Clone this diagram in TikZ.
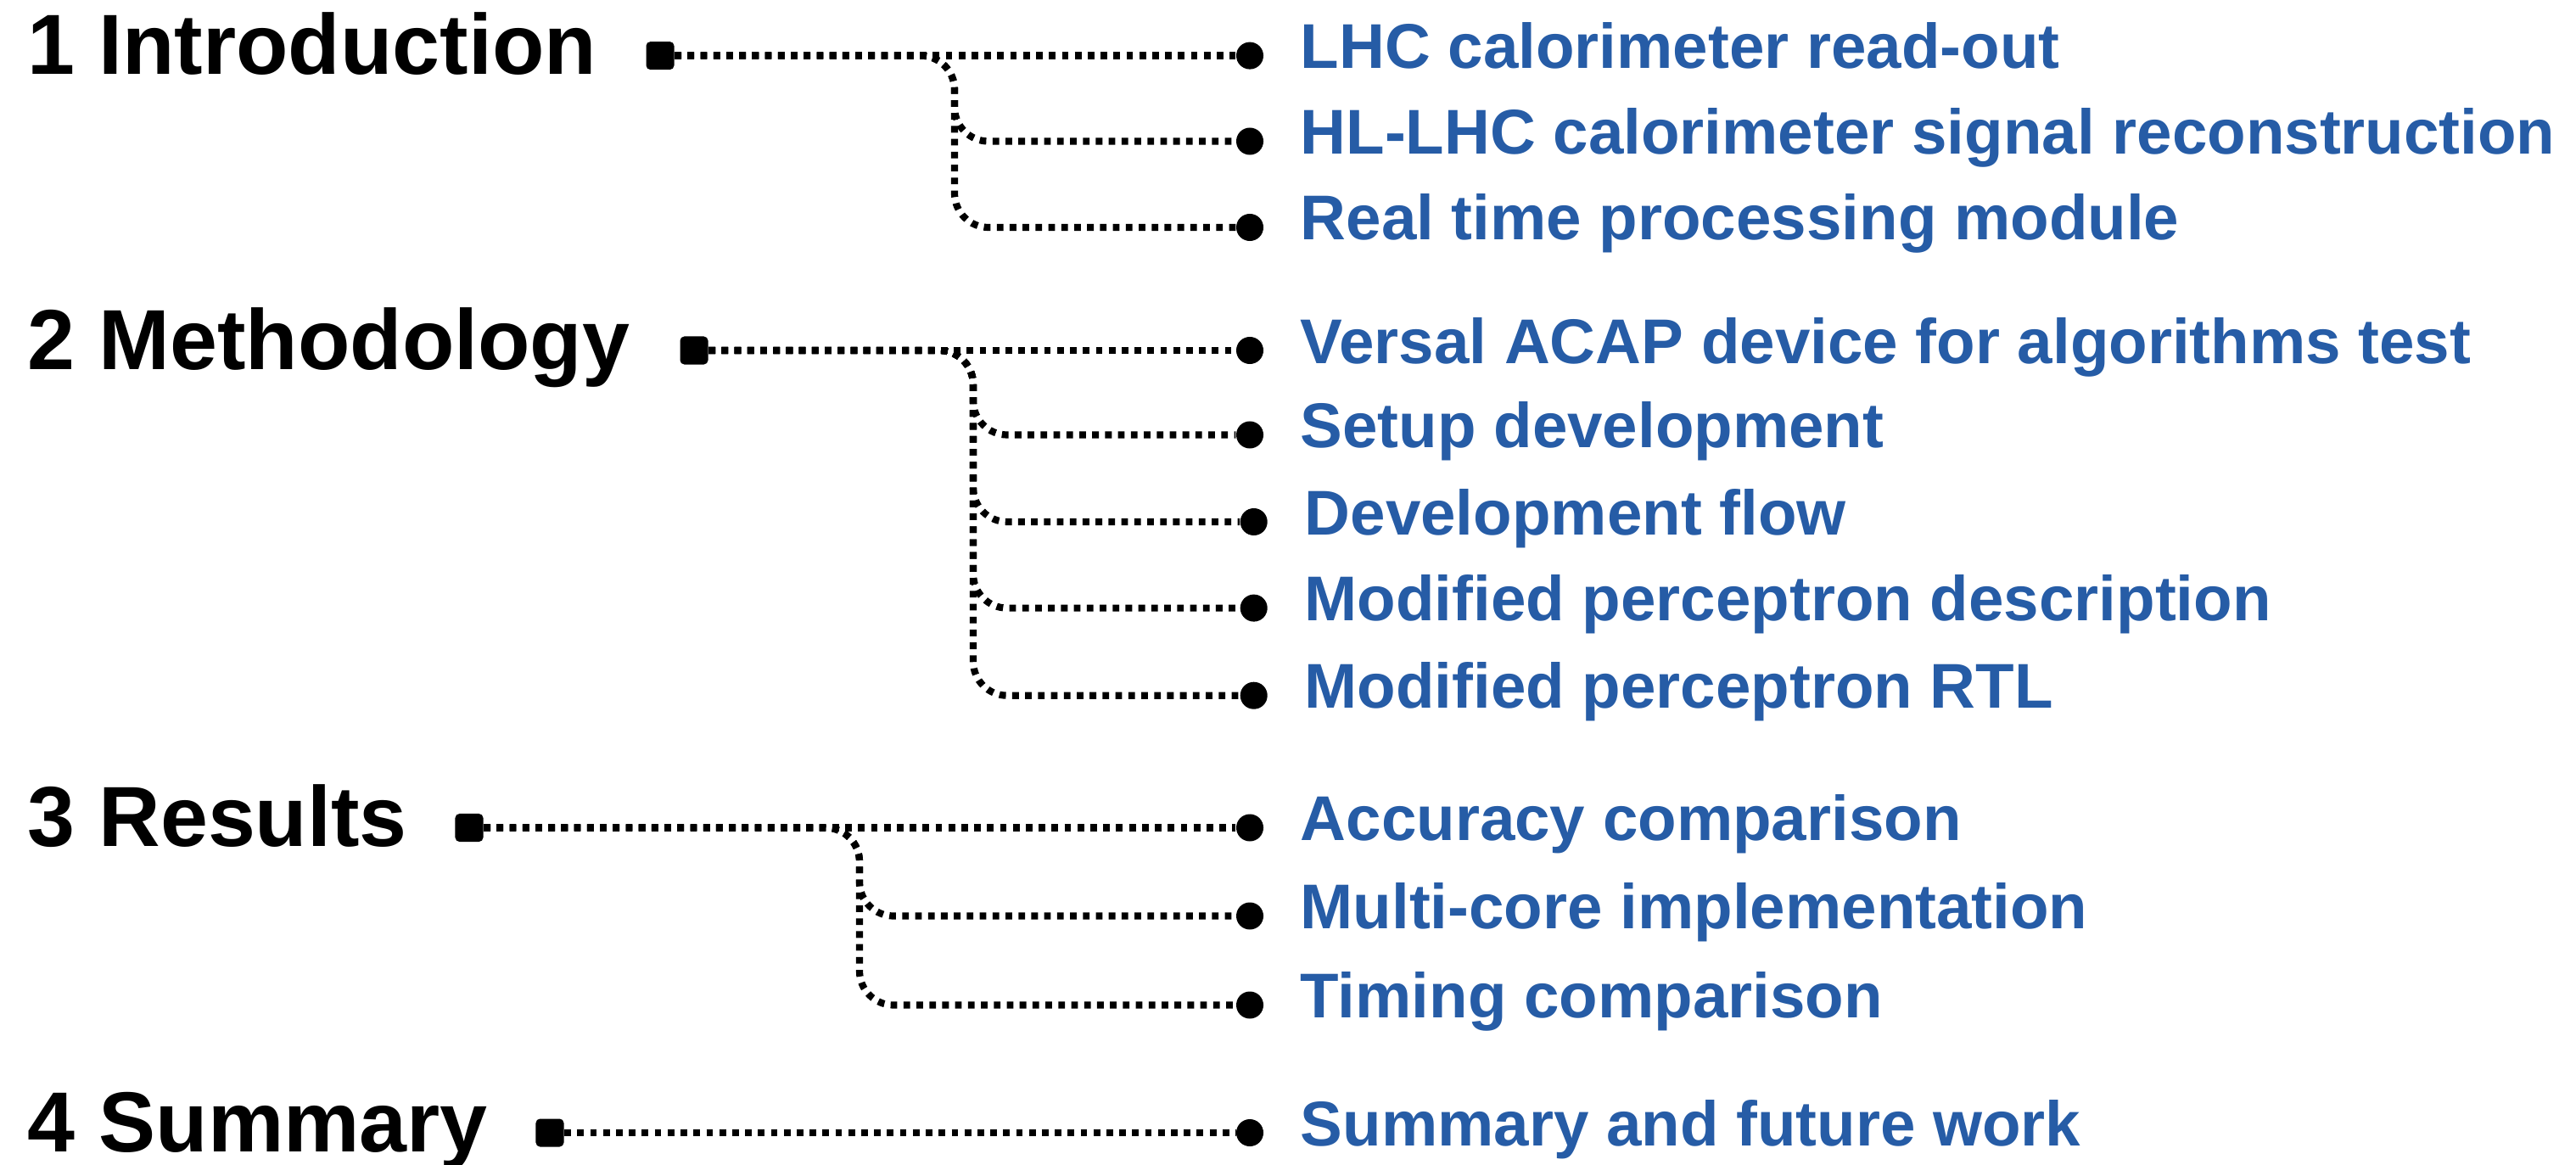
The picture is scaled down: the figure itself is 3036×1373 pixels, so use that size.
\documentclass[tikz,border=0pt]{standalone}
\usepackage{fontspec}
\setmainfont{Liberation Sans}
\definecolor{itemblue}{RGB}{38,92,166}
\begin{document}
\begin{tikzpicture}[x=0.01cm,y=0.01cm,
  head/.style={anchor=base west,inner sep=0pt,font=\bfseries\fontsize{28.6}{34}\selectfont,text=black},
  itemtext/.style={anchor=base west,inner sep=0pt,font=\bfseries\fontsize{21.2}{25}\selectfont,text=itemblue},
  sqm/.style={rectangle,fill=black,rounded corners=0.05cm,minimum size=0.33cm,inner sep=0pt},
  dotm/.style={circle,fill=black,minimum size=0.32cm,inner sep=0pt},
  conn/.style={line width=0.082cm,dash pattern=on 0.078cm off 0.074cm,rounded corners=0.4cm}]
\useasboundingbox (0,0) rectangle (3036,-1373);
% ---------- 1 Introduction
\node[head] (hI) at (32,-87.6) {1 Introduction};
\node[sqm] (sqI) at (778,-65.6) {};
\coordinate (bI) at (1125,0);
\node[dotm] (cI1) at (1473,-65.6) {};
\node[dotm] (cI2) at (1473,-166.5) {};
\node[dotm] (cI3) at (1473,-268) {};
\node[itemtext] (tI1) at (1532,-80.6) {LHC calorimeter read-out};
\node[itemtext] (tI2) at (1532,-181.5) {HL-LHC calorimeter signal reconstruction};
\node[itemtext] (tI3) at (1532,-283) {Real time processing module};
\draw[conn] (sqI.east) -- (cI1);
\draw[conn] (sqI.east) -| (bI |- cI2) -- (cI2);
\draw[conn] (sqI.east) -| (bI |- cI3) -- (cI3);
% ---------- 2 Methodology
\node[head] (hM) at (32,-435) {2 Methodology};
\node[sqm] (sqM) at (818,-413) {};
\coordinate (bM) at (1147,0);
\node[dotm] (cM1) at (1473,-413) {};
\node[dotm] (cM2) at (1473,-512.5) {};
\node[dotm] (cM3) at (1477.7,-615) {};
\node[dotm] (cM4) at (1477.7,-716.6) {};
\node[dotm] (cM5) at (1477.7,-819.7) {};
\node[itemtext] (tM1) at (1532,-428) {Versal ACAP device for algorithms test};
\node[itemtext] (tM2) at (1532,-527.5) {Setup development};
\node[itemtext] (tM3) at (1537,-630) {Development flow};
\node[itemtext] (tM4) at (1537,-731.6) {Modified perceptron description};
\node[itemtext] (tM5) at (1537,-834.7) {Modified perceptron RTL};
\draw[conn] (sqM.east) -- (cM1);
\draw[conn] (sqM.east) -| (bM |- cM2) -- (cM2);
\draw[conn] (sqM.east) -| (bM |- cM3) -- (cM3);
\draw[conn] (sqM.east) -| (bM |- cM4) -- (cM4);
\draw[conn] (sqM.east) -| (bM |- cM5) -- (cM5);
% ---------- 3 Results
\node[head] (hR) at (32,-997) {3 Results};
\node[sqm] (sqR) at (553,-975.5) {};
\coordinate (bR) at (1013,0);
\node[dotm] (cR1) at (1473,-975.5) {};
\node[dotm] (cR2) at (1473,-1079.5) {};
\node[dotm] (cR3) at (1473,-1184.5) {};
\node[itemtext] (tR1) at (1532,-990.5) {Accuracy comparison};
\node[itemtext] (tR2) at (1532,-1094.5) {Multi-core implementation};
\node[itemtext] (tR3) at (1532,-1199.5) {Timing comparison};
\draw[conn] (sqR.east) -- (cR1);
\draw[conn] (sqR.east) -| (bR |- cR2) -- (cR2);
\draw[conn] (sqR.east) -| (bR |- cR3) -- (cR3);
% ---------- 4 Summary
\node[head] (hS) at (32,-1357) {4 Summary};
\node[sqm] (sqS) at (648,-1335) {};
\node[dotm] (cS1) at (1473,-1335) {};
\node[itemtext] (tS1) at (1532,-1350) {Summary and future work};
\draw[conn] (sqS.east) -- (cS1);
\end{tikzpicture}
\end{document}
